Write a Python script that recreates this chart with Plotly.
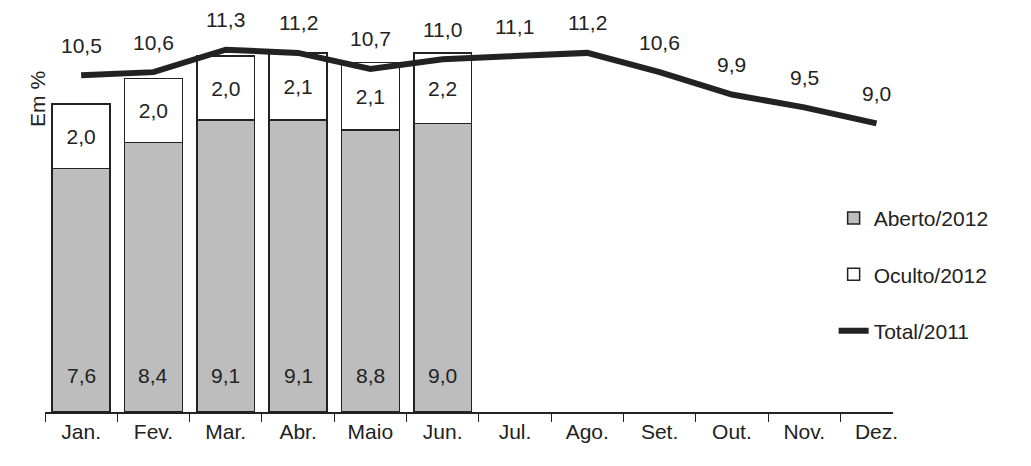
import plotly.graph_objects as go

months = ["Jan.", "Fev.", "Mar.", "Abr.", "Maio", "Jun.", "Jul.", "Ago.", "Set.", "Out.", "Nov.", "Dez."]
aberto = [7.6, 8.4, 9.1, 9.1, 8.8, 9.0]
oculto = [2.0, 2.0, 2.0, 2.1, 2.1, 2.2]
total2011 = [10.5, 10.6, 11.3, 11.2, 10.7, 11.0, 11.1, 11.2, 10.6, 9.9, 9.5, 9.0]

fnt = dict(family="Liberation Sans, Arial, sans-serif", size=21, color="#222")
fmt = lambda v: f"{v:.1f}".replace(".", ",")

fig = go.Figure()
fig.add_bar(x=months[:6], y=aberto, name="Aberto/2012", marker=dict(color="#bdbdbd", line=dict(color="#222", width=1.5)),
            width=0.8, legendgroup="a")
fig.add_bar(x=months[:6], y=oculto, name="Oculto/2012", marker=dict(color="white", line=dict(color="#222", width=1.5)),
            width=0.8, text=[fmt(v) for v in oculto], textposition="inside", insidetextanchor="middle",
            textfont=fnt, legendgroup="b")
fig.add_scatter(x=months, y=total2011, mode="lines", name="Total/2011", line=dict(color="#222", width=6), legendgroup="c")

for m, v in zip(months, aberto):
    fig.add_annotation(x=m, y=1.15, text=fmt(v), showarrow=False, font=fnt)
for m, v in zip(months, total2011):
    fig.add_annotation(x=m, y=v, text=fmt(v), showarrow=False, font=fnt, yshift=30)

fig.update_layout(
    barmode="stack", width=1031, height=466, plot_bgcolor="white", paper_bgcolor="white",
    margin=dict(l=37, r=146, t=0, b=62), font=fnt,
    legend=dict(x=0.93, y=0.53, xanchor="left", yanchor="top", tracegroupgap=26, font=fnt, bgcolor="rgba(0,0,0,0)"),
    xaxis=dict(type="category", tickson="boundaries", ticks="outside", ticklen=8, tickcolor="#222",
               showline=True, linecolor="#222", linewidth=1.5, showgrid=False, tickfont=fnt),
    yaxis=dict(range=[0, 12.6], visible=False, showgrid=False),
)
fig.add_annotation(text="Em %", xref="paper", yref="paper", x=-0.025, y=0.85, textangle=-90, showarrow=False, font=fnt)
fig.write_html("out.html")
